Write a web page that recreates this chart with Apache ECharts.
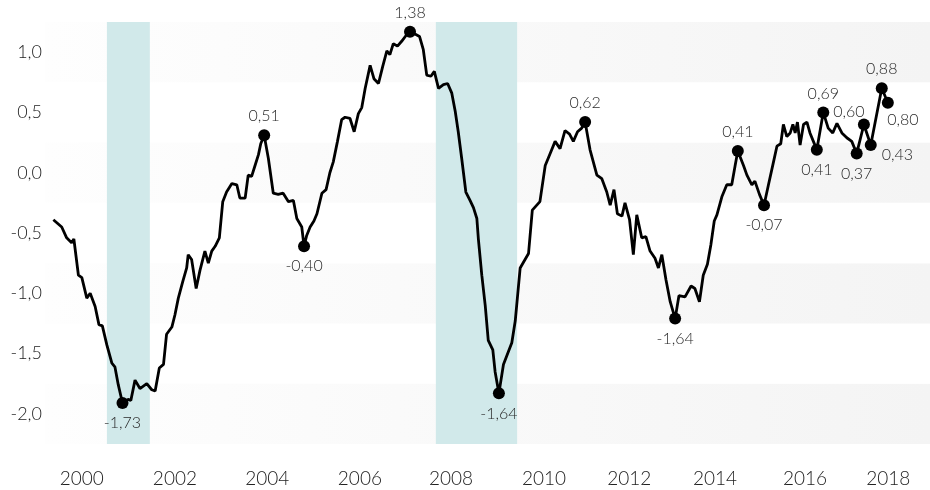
<!DOCTYPE html>
<html>
<head>
<meta charset="utf-8">
<script src="https://cdn.jsdelivr.net/npm/echarts@6/dist/echarts.min.js"></script>
<style>
  html, body { margin: 0; padding: 0; background: #fff; }
  #chart { width: 930px; height: 490px; }
</style>
</head>
<body>
<div id="chart"></div>
<script>
// position along the time axis (months from start) and index value
var xPos = [2.2, 4.4, 5.7, 7.0, 7.6, 8.8, 9.7, 11.0, 11.9, 13.2, 14.2, 15.1, 16.3, 17.6, 18.4, 19.3, 20.4, 21.9, 22.6, 23.7,
    25.0, 26.8, 28.1, 29.0, 30.1, 31.2, 32.0, 33.4, 34.2, 35.1, 36.3, 37.3, 37.7, 38.6, 39.8, 40.8, 42.1, 43.0, 43.9, 44.8,
    45.9, 46.8, 47.8, 49.2, 50.5, 51.3, 52.7, 53.5, 54.4, 55.3, 56.2, 56.8, 57.7, 58.8, 60.1, 61.4, 62.7, 64.1, 65.4, 66.3,
    67.6, 68.2, 68.9, 69.8, 70.8, 71.6, 72.9, 74.0, 75.0, 75.9, 77.0, 78.1, 79.0, 80.3, 81.4, 82.5, 83.4, 84.3, 85.6, 86.6,
    87.8, 88.9, 90.0, 90.8, 91.7, 92.8, 93.9, 95.1, 96.1, 97.4, 98.6, 99.6, 100.5, 101.6, 102.5, 103.6, 104.9, 106.0, 107.1, 108.0,
    108.8, 109.7, 110.8, 111.9, 112.8, 113.7, 114.1, 115.0, 115.9, 116.7, 117.9, 118.5, 119.5, 120.7, 122.9, 123.8, 125.1, 127.3, 128.3, 130.3,
    131.7, 133.0, 134.3, 135.6, 136.9, 138.1, 139.1, 140.2, 141.3, 142.2, 143.5, 145.3, 146.6, 147.9, 148.8, 149.8, 150.7, 151.9, 152.7, 153.9,
    154.9, 155.8, 157.1, 158.2, 159.3, 160.6, 161.5, 162.4, 163.5, 164.6, 165.9, 166.9, 168.5, 170.1, 171.1, 172.3, 173.3, 174.4, 175.3, 176.2,
    176.9, 178.2, 179.5, 180.8, 181.7, 182.4, 183.9, 184.8, 186.1, 186.9, 188.1, 189.3, 190.4, 191.8, 192.7, 193.7, 194.4, 195.3, 196.2, 196.9,
    197.5, 198.1, 198.8, 199.7, 200.6, 201.4, 202.3, 203.2, 204.9, 206.2, 207.4, 208.5, 209.8, 211.1, 212.4, 213.7, 215.6, 217.4, 220.3, 221.9];
var values = [-0.39, -0.45, -0.54, -0.58, -0.55, -0.85, -0.87, -1.04, -1.00, -1.11, -1.26, -1.27, -1.43, -1.58, -1.61, -1.76, -1.91, -1.88, -1.89, -1.72,
    -1.79, -1.75, -1.80, -1.81, -1.62, -1.59, -1.34, -1.28, -1.18, -1.04, -0.90, -0.79, -0.68, -0.72, -0.96, -0.81, -0.65, -0.75, -0.65, -0.61,
    -0.54, -0.24, -0.16, -0.09, -0.10, -0.21, -0.21, -0.02, -0.03, 0.06, 0.15, 0.24, 0.31, 0.12, -0.17, -0.18, -0.17, -0.24, -0.23, -0.38,
    -0.45, -0.61, -0.52, -0.45, -0.40, -0.34, -0.17, -0.14, 0.00, 0.09, 0.26, 0.44, 0.46, 0.45, 0.34, 0.49, 0.54, 0.70, 0.89, 0.78,
    0.74, 0.88, 1.01, 0.98, 1.07, 1.05, 1.09, 1.14, 1.17, 1.15, 1.13, 1.02, 0.81, 0.80, 0.84, 0.70, 0.73, 0.74, 0.66, 0.51,
    0.34, 0.12, -0.16, -0.23, -0.29, -0.38, -0.55, -0.85, -1.10, -1.39, -1.47, -1.65, -1.83, -1.59, -1.41, -1.23, -0.79, -0.67, -0.31, -0.24,
    0.06, 0.16, 0.26, 0.20, 0.35, 0.32, 0.26, 0.34, 0.37, 0.42, 0.19, -0.02, -0.05, -0.16, -0.27, -0.14, -0.34, -0.36, -0.25, -0.39,
    -0.68, -0.35, -0.54, -0.53, -0.65, -0.71, -0.79, -0.68, -0.89, -1.07, -1.21, -1.02, -1.03, -0.94, -0.96, -1.07, -0.85, -0.76, -0.60, -0.40,
    -0.35, -0.20, -0.10, -0.10, 0.06, 0.18, 0.06, -0.02, -0.10, -0.07, -0.18, -0.27, -0.11, 0.09, 0.22, 0.24, 0.40, 0.30, 0.33, 0.40,
    0.33, 0.42, 0.23, 0.40, 0.42, 0.33, 0.26, 0.19, 0.50, 0.37, 0.33, 0.41, 0.33, 0.29, 0.26, 0.16, 0.40, 0.23, 0.70, 0.58];

// highlighted points: index into the arrays above and their annotation
var markIdx = [16, 52, 61, 88, 112, 129, 150, 165, 171, 187, 188, 195, 196, 197, 198, 199];
var markText = ['-1,73', '0,51', '-0,40', '1,38', '-1,64', '0,62', '-1,64', '0,41', '-0,07', '0,41', '0,69', '0,37', '0,60', '0,43', '0,88', '0,80'];
var markSide = ['bottom', 'top', 'bottom', 'top', 'bottom', 'top', 'bottom', 'top', 'bottom', 'bottom', 'top', 'bottom', 'topleft', 'right', 'top', 'bottomright'];

// x axis tick labels
var yearPos = [9.7, 34.2, 58.5, 82.9, 106.9, 131.4, 153.8, 176.4, 200.1, 222.0];
var yearText = ['2000', '2002', '2004', '2006', '2008', '2010', '2012', '2014', '2016', '2018'];
// y axis tick labels
var yTicks = [-2, -1.5, -1, -0.5, 0, 0.5, 1];

// shaded periods
var shaded = [[16.3, 27.6], [102.9, 124.3]];

var FONT = "'Lato', sans-serif";

var sideStyle = {
    top: { position: 'top', distance: 5 },
    bottom: { position: 'bottom', distance: 6 },
    topleft: { position: 'top', distance: 5, offset: [-15, 6] },
    right: { position: 'right', distance: 5, offset: [0, 10] },
    bottomright: { position: 'bottom', distance: 5, offset: [15, -2] }
};

var lineData = xPos.map(function (x, i) { return [x, values[i]]; });
var dotData = markIdx.map(function (idx, k) {
    var s = sideStyle[markSide[k]];
    return {
        value: [xPos[idx], values[idx]],
        label: Object.assign({ formatter: markText[k] }, s)
    };
});

var myChart = echarts.init(document.getElementById('chart'));

var bandGray = new echarts.graphic.LinearGradient(0, 0, 1, 0, [
    { offset: 0, color: '#fefefe' },
    { offset: 1, color: '#f4f4f4' }
]);

var option = {
    animation: false,
    grid: { left: 45, right: 0, top: 22, bottom: 46, containLabel: false, outerBoundsMode: 'none' },
    xAxis: {
        type: 'value',
        min: 0,
        max: 233,
        axisLine: { show: false },
        axisTick: { show: false },
        splitLine: { show: false },
        axisLabel: {
            customValues: yearPos,
            margin: 25,
            color: '#222',
            fontSize: 19,
            fontFamily: FONT,
            fontWeight: 300,
            formatter: function (v) {
                var k = yearPos.indexOf(v);
                return k >= 0 ? yearText[k] : '';
            }
        }
    },
    yAxis: [{
        type: 'value',
        min: -2.25,
        max: 1.25,
        axisLine: { show: false },
        axisTick: { show: false },
        splitLine: { show: false },
        axisLabel: {
            customValues: yTicks,
            margin: 3,
            color: '#222',
            fontSize: 18,
            fontFamily: FONT,
            fontWeight: 300,
            formatter: function (v) { return v.toFixed(1).replace('.', ','); }
        }
    }, {
        // only draws the alternating bands
        type: 'value',
        position: 'left',
        min: -2.25,
        max: 1.25,
        interval: 0.5,
        axisLine: { show: false },
        axisTick: { show: false },
        axisLabel: { show: false },
        splitLine: { show: false },
        splitArea: { show: true, areaStyle: { color: [bandGray, '#ffffff'] } }
    }],
    series: [{
        type: 'line',
        data: lineData,
        showSymbol: false,
        symbol: 'none',
        lineStyle: { color: '#000', width: 2.8 },
        z: 3,
        markArea: {
            silent: true,
            itemStyle: { color: '#d1e9ea' },
            data: shaded.map(function (p) { return [{ xAxis: p[0] }, { xAxis: p[1] }]; })
        }
    }, {
        type: 'scatter',
        data: dotData,
        symbolSize: 12,
        itemStyle: { color: '#000', opacity: 1 },
        z: 4,
        label: {
            show: true,
            color: '#2a2a2a',
            fontSize: 16,
            fontFamily: FONT,
            fontWeight: 300
        }
    }]
};

myChart.setOption(option);
</script>
</body>
</html>
